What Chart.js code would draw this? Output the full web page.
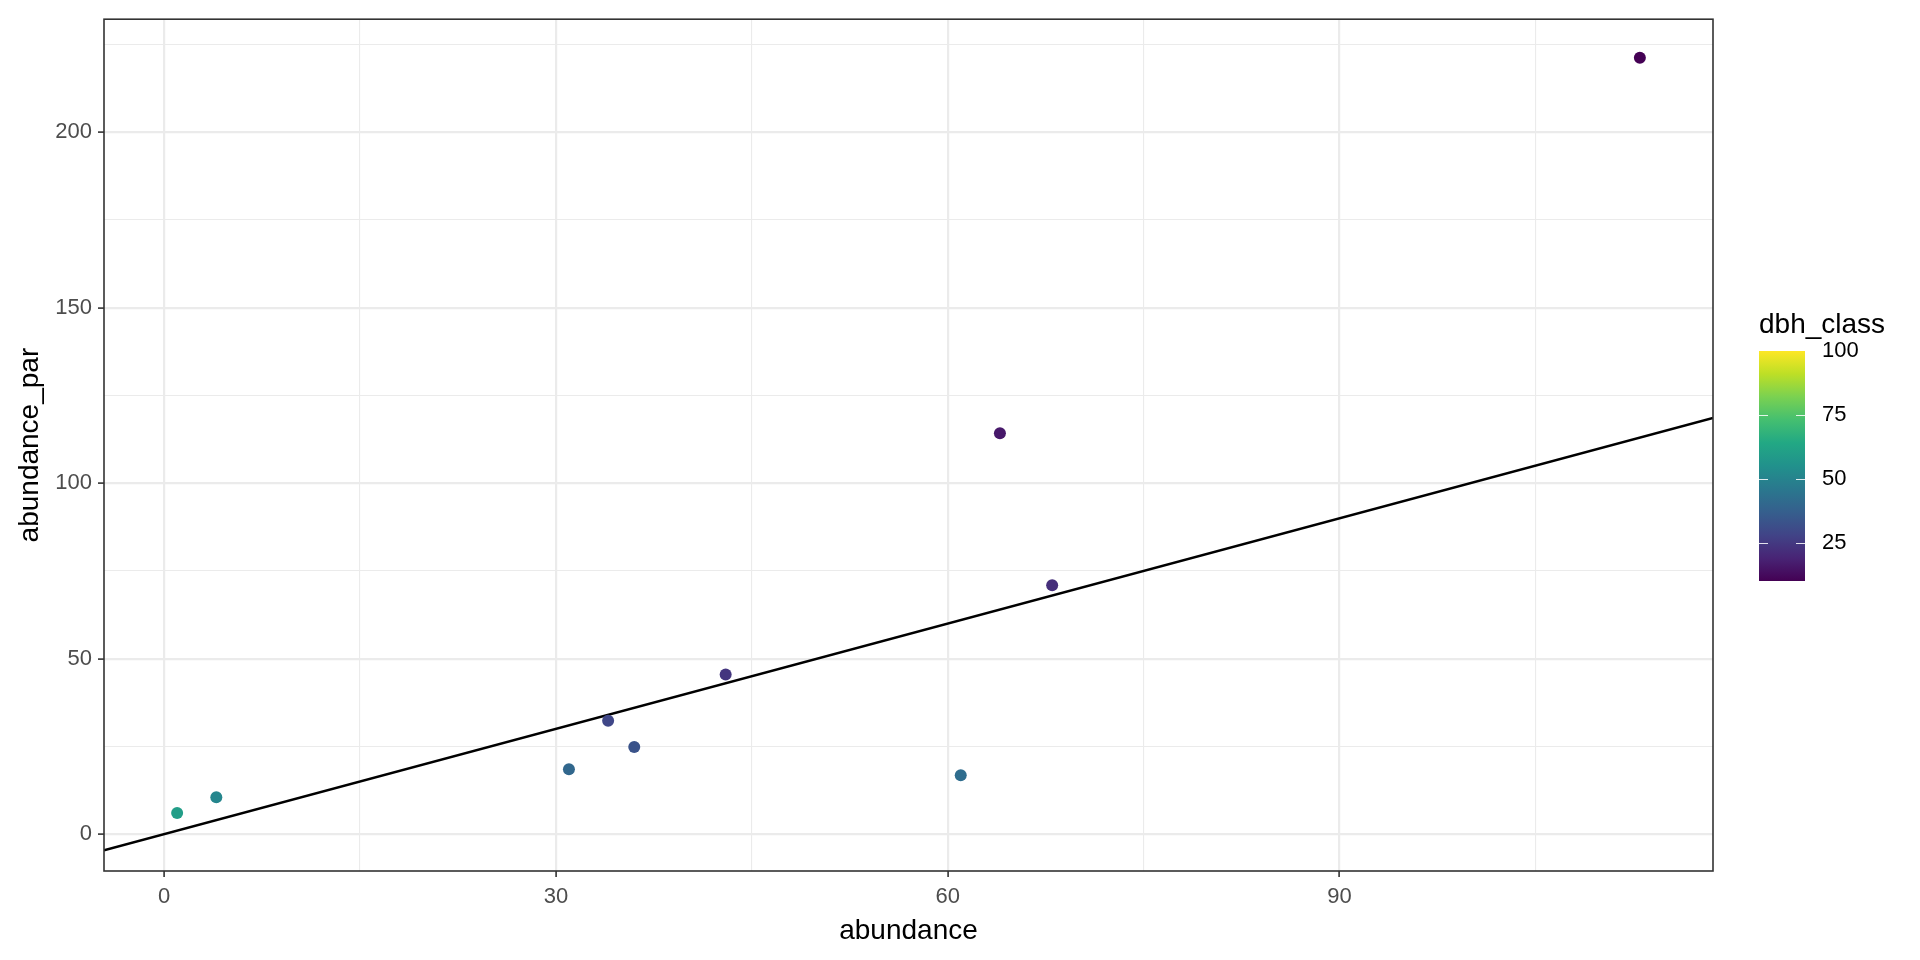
<!DOCTYPE html>
<html>
<head>
<meta charset="utf-8">
<script src="https://cdn.jsdelivr.net/npm/chart.js@4.4.1/dist/chart.umd.min.js"></script>
<style>
  body { margin: 0; background: #fff; }
  #plot { display: block; }
</style>
</head>
<body>
<canvas id="plot" width="1920" height="960"></canvas>
<script>
// data
const abundance    = [1, 4, 31, 34, 36, 43, 61, 64, 68, 113];
const abundancePar = [6, 10.5, 18.5, 32.3, 24.8, 45.5, 16.8, 114.2, 70.9, 221.2];
const dbhClass     = [60, 51, 40, 29, 33, 24, 42, 16, 22, 10];

// reference line (slope 1 through origin)
const ablineSlope = 1;
const ablineIntercept = 0;

// axis ticks
const xMajor = [0, 30, 60, 90];
const xMinor = [15, 45, 75, 105];
const yMajor = [0, 50, 100, 150, 200];
const yMinor = [25, 75, 125, 175, 225];
const xLimits = [-4.6, 118.6];
const yLimits = [-10.5, 232.2];

// colour bar
const dbhLimits = [10, 100];
const dbhBreaks = [25, 50, 75, 100];

const viridis = ['#440154', '#482475', '#414487', '#355f8d', '#2a788e', '#21918c',
                 '#22a884', '#44bf70', '#7ad151', '#bddf26', '#fde725'];

function hexToRgb(h) {
    return [parseInt(h.slice(1, 3), 16), parseInt(h.slice(3, 5), 16), parseInt(h.slice(5, 7), 16)];
}
function viridisAt(t) {
    t = Math.min(1, Math.max(0, t));
    const p = t * (viridis.length - 1);
    const i = Math.min(Math.floor(p), viridis.length - 2);
    const f = p - i;
    const a = hexToRgb(viridis[i]), b = hexToRgb(viridis[i + 1]);
    const c = a.map((v, k) => Math.round(v + (b[k] - v) * f));
    return 'rgb(' + c.join(',') + ')';
}
function dbhColor(v) {
    return viridisAt((v - dbhLimits[0]) / (dbhLimits[1] - dbhLimits[0]));
}

const FONT = '"Liberation Sans", Arial, Helvetica, sans-serif';
const GRID = '#ebebeb';

const points = abundance.map((x, i) => ({ x: x, y: abundancePar[i] }));
const ablinePts = xLimits.map(x => ({ x: x, y: ablineIntercept + ablineSlope * x }));

// panel border + colour bar legend
const extras = {
    id: 'extras',
    afterDatasetsDraw(chart) {
        const { ctx, chartArea: a } = chart;
        ctx.save();
        ctx.strokeStyle = '#333333';
        ctx.lineWidth = 1.6;
        ctx.strokeRect(a.left, a.top, a.right - a.left, a.bottom - a.top);
        ctx.restore();
    },
    afterDraw(chart) {
        const ctx = chart.ctx;
        const bx = 1759, bw = 46, top = 351, bottom = 581;
        const yOf = v => bottom - (v - dbhLimits[0]) / (dbhLimits[1] - dbhLimits[0]) * (bottom - top);
        ctx.save();
        const g = ctx.createLinearGradient(0, bottom, 0, top);
        viridis.forEach((c, i) => g.addColorStop(i / (viridis.length - 1), c));
        ctx.fillStyle = g;
        ctx.fillRect(bx, top, bw, bottom - top);
        ctx.strokeStyle = 'rgba(255,255,255,0.85)';
        ctx.lineWidth = 1.2;
        dbhBreaks.forEach(v => {
            const y = Math.round(yOf(v)) + 0.5;
            if (v >= dbhLimits[1]) return;
            ctx.beginPath();
            ctx.moveTo(bx, y); ctx.lineTo(bx + 9, y);
            ctx.moveTo(bx + bw - 9, y); ctx.lineTo(bx + bw, y);
            ctx.stroke();
        });
        ctx.fillStyle = '#000';
        ctx.textBaseline = 'middle';
        ctx.textAlign = 'left';
        ctx.font = '22px ' + FONT;
        dbhBreaks.forEach(v => ctx.fillText(String(v), 1822, yOf(v)));
        ctx.textBaseline = 'alphabetic';
        ctx.font = '28px ' + FONT;
        ctx.fillText('dbh_class', 1759, 333);
        ctx.restore();
    }
};

function tickList(major, minor) {
    return major.concat(minor).sort((a, b) => a - b).map(v => ({ value: v }));
}

new Chart(document.getElementById('plot'), {
    type: 'scatter',
    data: {
        datasets: [
            {
                data: points,
                pointRadius: 6,
                pointHoverRadius: 6,
                pointBorderWidth: 0,
                pointBackgroundColor: dbhClass.map(dbhColor),
            },
            {
                type: 'line',
                data: ablinePts,
                borderColor: '#000',
                borderWidth: 2.6,
                pointRadius: 0,
                fill: false,
                tension: 0,
            }
        ]
    },
    options: {
        responsive: false,
        animation: false,
        events: [],
        layout: { padding: { top: 15, right: 207, left: 0, bottom: 0 } },
        plugins: { legend: { display: false }, tooltip: { enabled: false } },
        scales: {
            x: {
                type: 'linear',
                min: xLimits[0],
                max: xLimits[1],
                afterBuildTicks: s => { s.ticks = tickList(xMajor, xMinor); },
                afterFit: s => { s.height = 89; },
                border: { display: false },
                grid: {
                    color: GRID,
                    lineWidth: c => xMajor.includes(c.tick.value) ? 2.2 : 1.1,
                    tickLength: 6,
                    tickWidth: 1.6,
                    tickColor: c => xMajor.includes(c.tick.value) ? '#333333' : 'rgba(0,0,0,0)',
                },
                ticks: {
                    autoSkip: false,
                    maxRotation: 0,
                    padding: 7,
                    color: '#4d4d4d',
                    font: { family: FONT, size: 22 },
                    callback: v => xMajor.includes(v) ? String(v) : '',
                },
                title: {
                    display: true,
                    text: 'abundance',
                    color: '#000',
                    font: { family: FONT, size: 28 },
                    padding: { top: 0, bottom: 12 },
                },
            },
            y: {
                type: 'linear',
                min: yLimits[0],
                max: yLimits[1],
                afterBuildTicks: s => { s.ticks = tickList(yMajor, yMinor); },
                afterFit: s => { s.width = 104; },
                border: { display: false },
                grid: {
                    color: GRID,
                    lineWidth: c => yMajor.includes(c.tick.value) ? 2.2 : 1.1,
                    tickLength: 6,
                    tickWidth: 1.6,
                    tickColor: c => yMajor.includes(c.tick.value) ? '#333333' : 'rgba(0,0,0,0)',
                },
                ticks: {
                    autoSkip: false,
                    padding: 6,
                    color: '#4d4d4d',
                    font: { family: FONT, size: 22 },
                    callback: v => yMajor.includes(v) ? String(v) : '',
                },
                title: {
                    display: true,
                    text: 'abundance_par',
                    color: '#000',
                    font: { family: FONT, size: 28 },
                    padding: { top: 13, bottom: 0 },
                },
            }
        }
    },
    plugins: [extras]
});
</script>
</body>
</html>
